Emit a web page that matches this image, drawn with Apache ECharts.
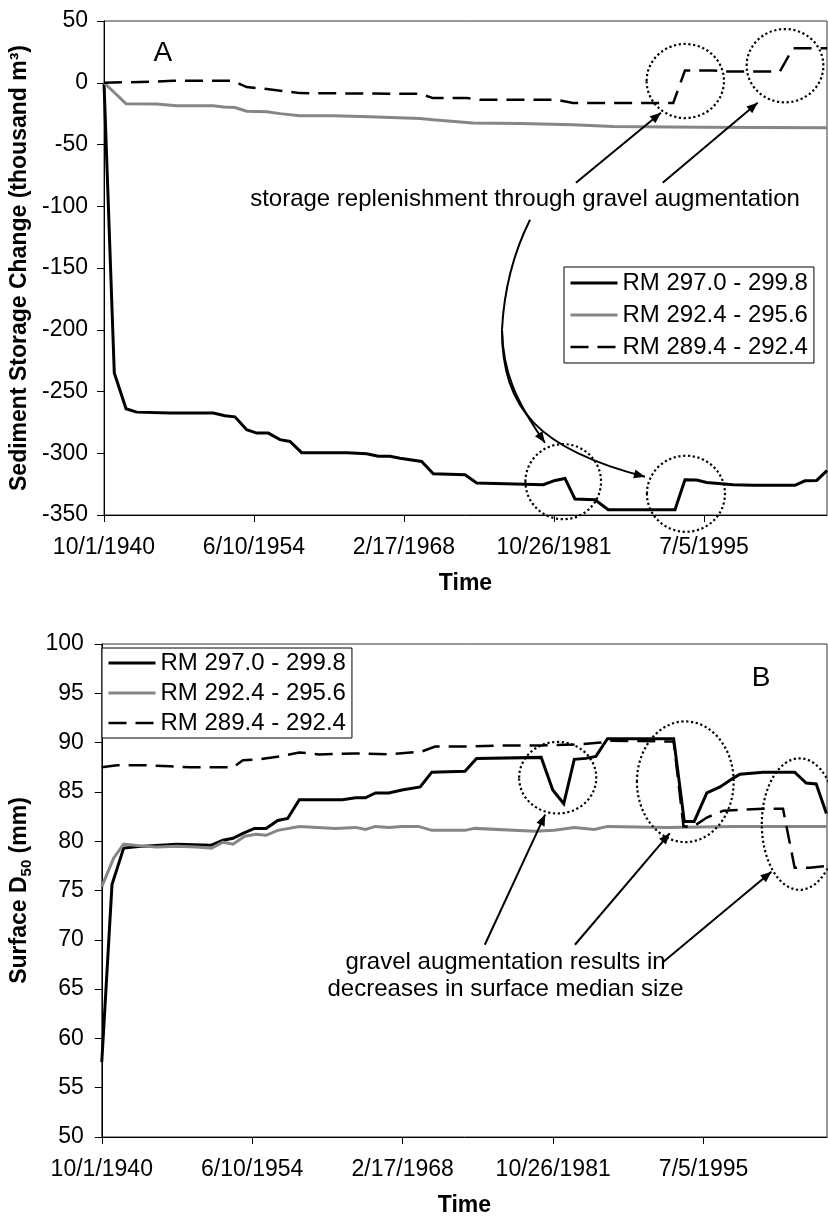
<!DOCTYPE html>
<html>
<head>
<meta charset="utf-8">
<script src="https://cdn.jsdelivr.net/npm/echarts@6/dist/echarts.min.js"></script>
<style>
html,body{margin:0;padding:0;background:#fff;}
#c{width:828px;height:1218px;}
</style>
</head>
<body>
<div id="c"></div>
<script>
// ---------------- DATA (time in decimal years, values as read) ----------------
const tickLabelsX = ['10/1/1940', '6/10/1954', '2/17/1968', '10/26/1981', '7/5/1995'];
const seriesNames = ['RM 297.0 - 299.8', 'RM 292.4 - 295.6', 'RM 289.4 - 292.4'];

// Panel A: sediment storage change (thousand m3)
const storage297 = [[1940.75,0],[1941.69,-235],[1942.76,-264],[1943.73,-266.7],[1946.77,-267.5],[1950.72,-267.5],[1951.79,-269.6],[1952.70,-270.5],[1953.77,-281],[1954.69,-283.7],[1955.74,-283.7],[1956.81,-289],[1957.72,-290.5],[1958.79,-299.5],[1962.90,-299.5],[1964.72,-300.4],[1965.78,-302.5],[1966.85,-302.5],[1967.76,-304],[1969.74,-306.6],[1970.80,-316.6],[1973.70,-317.4],[1974.76,-324],[1980.84,-325.5],[1981.91,-322],[1982.82,-320.4],[1983.73,-337],[1985.56,-337.7],[1986.77,-345.7],[1992.86,-345.7],[1993.77,-321.5],[1994.84,-321.7],[1995.75,-323.6],[1998.18,-325.5],[2000.01,-326],[2003.81,-326],[2004.72,-322.3],[2005.79,-322],[2006.73,-314]];
const storage292 = [[1940.75,0],[1941.91,-9.7],[1942.76,-17],[1945.56,-17.3],[1947.38,-18.6],[1950.72,-18.6],[1951.64,-19.7],[1952.70,-20],[1953.77,-23],[1955.60,-23.5],[1956.81,-25],[1958.64,-26.7],[1961.68,-26.7],[1965.0,-27.5],[1969.59,-28.9],[1970.77,-30],[1974.42,-32.6],[1978.7,-33],[1983.55,-34],[1987.2,-35.4],[1995.1,-36],[2006.73,-36.5]];
const storage289 = [[1940.75,0],[1944.95,0.8],[1947.05,1.6],[1952.52,1.6],[1953.77,-3.5],[1955.60,-5],[1958.64,-8.4],[1969.59,-9],[1970.77,-12.4],[1973.85,-12.4],[1975.06,-13.8],[1982.06,-13.8],[1983.55,-16.4],[1992.70,-16.4],[1993.77,10],[1996.33,10],[1997.58,9.2],[2002.44,9.2],[2003.63,28],[2006.73,28]];

// Panel B: surface D50 (mm)
const d50_297 = [[1940.75,57.6],[1941.68,75.6],[1942.74,79.3],[1944.55,79.5],[1947.56,79.7],[1950.73,79.6],[1951.78,80.1],[1952.69,80.3],[1953.59,80.8],[1954.65,81.3],[1955.70,81.3],[1956.76,82.1],[1957.66,82.3],[1958.72,84.2],[1962.64,84.2],[1963.84,84.4],[1964.74,84.4],[1965.65,84.9],[1966.86,84.9],[1968.06,85.2],[1969.72,85.5],[1970.78,87.0],[1973.79,87.1],[1974.85,88.4],[1980.73,88.5],[1981.78,85.2],[1982.78,83.8],[1983.74,88.3],[1984.79,88.4],[1985.70,88.6],[1986.76,90.4],[1992.78,90.4],[1993.75,82.0],[1994.65,82.0],[1995.80,84.9],[1997.0,85.5],[1998.21,86.4],[1998.81,86.8],[2000.92,87.0],[2003.79,87.0],[2004.84,85.9],[2005.75,85.8],[2006.68,82.8]];
const d50_292 = [[1940.75,75.4],[1941.84,78.3],[1942.74,79.7],[1944.55,79.5],[1945.75,79.4],[1947.56,79.5],[1949.37,79.4],[1950.73,79.3],[1951.78,79.9],[1952.69,79.7],[1953.75,80.5],[1954.80,80.7],[1955.70,80.6],[1956.76,81.1],[1958.72,81.5],[1962.03,81.3],[1963.84,81.4],[1964.74,81.2],[1965.65,81.5],[1966.86,81.4],[1968.06,81.5],[1969.57,81.5],[1970.78,81.1],[1973.79,81.1],[1974.69,81.3],[1980.12,81.0],[1981.93,81.1],[1983.74,81.4],[1985.55,81.2],[1986.76,81.5],[1992.18,81.4],[1998.21,81.5],[2006.68,81.5]];
const d50_289 = [[1940.75,87.5],[1942.13,87.7],[1944.85,87.7],[1946.96,87.6],[1948.77,87.5],[1952.69,87.5],[1953.59,88.2],[1955.10,88.3],[1956.91,88.6],[1958.72,89.0],[1960.53,88.8],[1963.84,88.9],[1966.86,88.8],[1969.87,89.1],[1971.08,89.6],[1974.10,89.6],[1977.11,89.7],[1980.73,89.7],[1983.74,89.8],[1986.16,90.0],[1986.76,90.2],[1992.78,90.1],[1993.68,81.5],[1994.59,81.5],[1995.80,82.4],[1997.30,83.1],[2000.92,83.3],[2002.73,83.3],[2003.79,77.3],[2005.15,77.3],[2006.68,77.5]];

// ---------------- ANNOTATIONS (data coordinates: [year, value]) ----------------
const noteA = 'storage replenishment through gravel augmentation';
const noteB = 'gravel augmentation results in\ndecreases in surface median size';
const annA = {
  panelLabel: [1946.11, 24.0],
  note: [1979.17, -94.7],
  rings: [[1993.80, 1.4, 3.53, 30], [2002.90, 13.8, 3.50, 29.7], [1982.66, -323, 3.45, 30.4], [1993.86, -332.8, 3.56, 30.8]],
  arrows: [[[1983.82, -81], [1991.58, -24.3]], [[1991.74, -81], [2000.41, -16.2]]],
  stem: [[1979.63, -110.9], [1977.35, -151.4], [1977.07, -200]],
  branchA: [[1977.16, -234], [1978.26, -256.7], [1980.99, -291.5]],
  branchB: [[1977.07, -264.8], [1980.54, -297.2], [1990.12, -319]]
};
const annB = {
  panelLabel: [2000.74, 96.57],
  note: [1977.49, 66.3],
  rings: [[1982.23, 86.44, 3.51, 3.63], [1993.84, 86.03, 4.40, 6.12], [2004.24, 81.74, 3.44, 6.67]],
  arrows: [[[1975.60, 69.5], [1981.09, 82.7]], [[1983.80, 69.5], [1992.42, 80.8]], [[1991.88, 67.8], [2001.68, 76.9]]]
};

// ---------------- CHART ----------------
const FONT = "'Liberation Sans', Arial, sans-serif";
const X0 = 1940.75;
const toDays = y => (y - X0) * 365.25;
const xy = arr => arr.map(p => [toDays(p[0]), p[1]]);

const styles = [
  { color: '#000', width: 3, type: 'solid' },
  { color: '#868686', width: 3, type: 'solid' },
  { color: '#000', width: 2.5, type: [18, 9] }
];

function makeX(g) {
  return {
    type: 'value', gridIndex: g, min: 0, max: 24100, interval: 5000,
    name: 'Time', nameLocation: 'middle', nameGap: 57,
    nameTextStyle: { fontFamily: FONT, fontSize: 23, fontWeight: 'bold', color: '#000' },
    axisLine: { show: true, onZero: false, lineStyle: { color: '#000', width: 1 } },
    axisTick: { show: true, inside: false, length: 7, lineStyle: { color: '#000', width: 1 } },
    axisLabel: {
      margin: 21, fontFamily: FONT, fontSize: 23, color: '#000', showMaxLabel: false,
      formatter: v => { const i = Math.round(v / 5000); return (Math.abs(v - i * 5000) < 1 && tickLabelsX[i]) ? tickLabelsX[i] : ''; }
    },
    splitLine: { show: false }
  };
}

function makeSeries(name, data, g, k) {
  return {
    type: 'line', name: name, xAxisIndex: g, yAxisIndex: g, data: xy(data),
    symbol: 'none', showSymbol: false, animation: false,
    itemStyle: { color: styles[k].color },
    lineStyle: { color: styles[k].color, width: styles[k].width, type: styles[k].type, cap: 'butt', join: 'miter' }
  };
}

const legendData = seriesNames.map((n, k) => ({
  name: n,
  itemStyle: { opacity: 0, color: styles[k].color, borderWidth: 0 },
  lineStyle: { color: styles[k].color, width: styles[k].width, type: styles[k].type, opacity: 1 }
}));

const legendBase = {
  orient: 'vertical', data: legendData, selectedMode: false,
  itemWidth: 47, itemHeight: 14,
  borderColor: '#000', borderWidth: 1, backgroundColor: '#fff',
  textStyle: { fontFamily: FONT, fontSize: 24, color: '#000', lineHeight: 26 }
};

const chart = echarts.init(document.getElementById('c'), null, { renderer: 'canvas' });
chart.setOption({
  backgroundColor: '#fff',
  animation: false,
  grid: [
    { left: 104, top: 21, right: 1, height: 494, show: true, borderColor: '#333', borderWidth: 1, backgroundColor: 'transparent' },
    { left: 98, top: 644, right: 1, height: 493, show: true, borderColor: '#333', borderWidth: 1, backgroundColor: 'transparent' }
  ],
  xAxis: [makeX(0), makeX(1)],
  yAxis: [
    {
      type: 'value', gridIndex: 0, min: -350, max: 50, interval: 50,
      name: 'Sediment Storage Change (thousand m³)', nameLocation: 'middle', nameGap: 67,
      nameTextStyle: { fontFamily: FONT, fontSize: 23, fontWeight: 'bold', color: '#000' },
      axisLine: { show: true, onZero: false, lineStyle: { color: '#000', width: 1 } },
      axisTick: { show: true, inside: false, length: 7, lineStyle: { color: '#000' } },
      axisLabel: { margin: 16, fontFamily: FONT, fontSize: 23, color: '#000' },
      splitLine: { show: false }
    },
    {
      type: 'value', gridIndex: 1, min: 50, max: 100, interval: 5,
      name: '{a|Surface D}{s|50}{a| (mm)}', nameLocation: 'middle', nameGap: 59,
      nameTextStyle: {
        fontFamily: FONT, fontSize: 23, fontWeight: 'bold', color: '#000',
        rich: {
          a: { fontFamily: FONT, fontSize: 23, fontWeight: 'bold', color: '#000', lineHeight: 30 },
          s: { fontFamily: FONT, fontSize: 15, fontWeight: 'bold', color: '#000', lineHeight: 15, verticalAlign: 'bottom' }
        }
      },
      axisLine: { show: true, onZero: false, lineStyle: { color: '#000', width: 1 } },
      axisTick: { show: true, inside: false, length: 7, lineStyle: { color: '#000' } },
      axisLabel: { margin: 18, fontFamily: FONT, fontSize: 23, color: '#000' },
      splitLine: { show: false }
    }
  ],
  legend: [
    Object.assign({}, legendBase, { left: 564, top: 267, itemGap: 6, padding: [3, 6, 3, 5] }),
    Object.assign({}, legendBase, { left: 102, top: 648, itemGap: 4, padding: [2, 6, 2, 5] })
  ],
  series: [
    makeSeries(seriesNames[0], storage297, 0, 0),
    makeSeries(seriesNames[1], storage292, 0, 1),
    makeSeries(seriesNames[2], storage289, 0, 2),
    makeSeries(seriesNames[0], d50_297, 1, 0),
    makeSeries(seriesNames[1], d50_292, 1, 1),
    makeSeries(seriesNames[2], d50_289, 1, 2)
  ]
});

// ---------------- annotation graphics ----------------
function P(g, p) { return chart.convertToPixel({ gridIndex: g }, [toDays(p[0]), p[1]]); }
const els = [];
const ringStyle = { fill: 'none', stroke: '#000', lineWidth: 2.2, lineDash: [2.2, 2.6] };
function ring(g, r) {
  const c = P(g, [r[0], r[1]]);
  const ex = P(g, [r[0] + r[2], r[1]]);
  const ey = P(g, [r[0], r[1] + r[3]]);
  els.push({ type: 'ellipse', z: 100, silent: true,
    shape: { cx: c[0], cy: c[1], rx: Math.abs(ex[0] - c[0]), ry: Math.abs(ey[1] - c[1]) },
    style: ringStyle });
}
function head(from, tip) {
  const dx = tip[0] - from[0], dy = tip[1] - from[1];
  const L = Math.hypot(dx, dy) || 1;
  const ux = dx / L, uy = dy / L, len = 11, w = 4.5;
  const bx = tip[0] - ux * len, by = tip[1] - uy * len;
  els.push({ type: 'polygon', z: 101, silent: true,
    shape: { points: [[tip[0], tip[1]], [bx - uy * w, by + ux * w], [bx + uy * w, by - ux * w]] },
    style: { fill: '#000', stroke: 'none' } });
}
function arrow(g, a) {
  const p1 = P(g, a[0]), p2 = P(g, a[1]);
  els.push({ type: 'line', z: 100, silent: true,
    shape: { x1: p1[0], y1: p1[1], x2: p2[0], y2: p2[1] },
    style: { stroke: '#000', lineWidth: 2 } });
  head(p1, p2);
}
function text(g, at, str, size, lh) {
  const p = P(g, at);
  els.push({ type: 'text', z: 102, silent: true, x: p[0], y: p[1],
    style: { text: str, fontFamily: FONT, fontSize: size, fill: '#000',
      align: 'center', verticalAlign: 'middle', textAlign: 'center', textVerticalAlign: 'middle',
      lineHeight: lh || size } });
}

text(0, annA.panelLabel, 'A', 28);
text(0, annA.note, noteA, 24);
annA.rings.forEach(r => ring(0, r));
annA.arrows.forEach(a => arrow(0, a));
(function () {
  const s0 = P(0, annA.stem[0]), s1 = P(0, annA.stem[1]), s2 = P(0, annA.stem[2]);
  els.push({ type: 'bezierCurve', z: 100, silent: true,
    shape: { x1: s0[0], y1: s0[1], cpx1: s1[0], cpy1: s1[1], x2: s2[0], y2: s2[1] },
    style: { stroke: '#000', lineWidth: 2, fill: 'none' } });
  [annA.branchA, annA.branchB].forEach(b => {
    const c1 = P(0, b[0]), c2 = P(0, b[1]), e = P(0, b[2]);
    els.push({ type: 'bezierCurve', z: 100, silent: true,
      shape: { x1: s2[0], y1: s2[1], cpx1: c1[0], cpy1: c1[1], cpx2: c2[0], cpy2: c2[1], x2: e[0], y2: e[1] },
      style: { stroke: '#000', lineWidth: 2, fill: 'none' } });
    head(c2, e);
  });
})();

text(1, annB.panelLabel, 'B', 28);
text(1, annB.note, noteB, 24, 27);
annB.rings.forEach(r => ring(1, r));
annB.arrows.forEach(a => arrow(1, a));

chart.setOption({ graphic: { elements: els } });
</script>
</body>
</html>
